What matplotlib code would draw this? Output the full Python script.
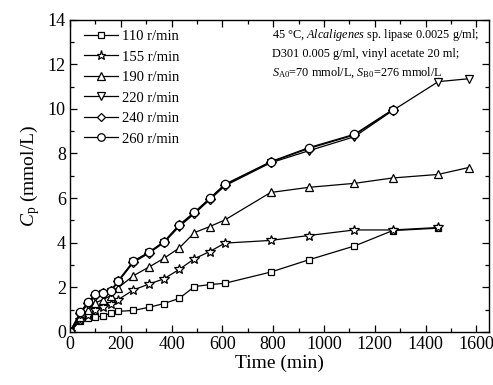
import matplotlib
matplotlib.use("Agg")
import matplotlib.pyplot as plt
from matplotlib.ticker import MultipleLocator

plt.rcParams['font.family'] = ['Liberation Serif', 'DejaVu Serif']
plt.rcParams['mathtext.fontset'] = 'custom'
plt.rcParams['mathtext.rm'] = 'Liberation Serif'
plt.rcParams['mathtext.it'] = 'Liberation Serif:italic'

t_110 = [0, 40, 70, 100, 130, 160, 190, 250, 310, 370, 430, 490, 550, 610, 790, 940, 1120, 1270, 1450]
c_110 = [0, 0.50, 0.60, 0.68, 0.70, 0.85, 0.92, 0.96, 1.10, 1.27, 1.50, 2.03, 2.12, 2.18, 2.68, 3.23, 3.85, 4.54, 4.65]

t_155 = [0, 40, 70, 100, 130, 160, 190, 250, 310, 370, 430, 490, 550, 610, 790, 940, 1120, 1270, 1450]
c_155 = [0, 0.55, 0.75, 0.98, 1.12, 1.26, 1.45, 1.88, 2.14, 2.38, 2.80, 3.28, 3.60, 3.98, 4.10, 4.32, 4.57, 4.57, 4.68]

t_190 = [0, 40, 70, 100, 130, 160, 190, 250, 310, 370, 430, 490, 550, 610, 790, 940, 1120, 1270, 1450, 1570]
c_190 = [0, 0.65, 1.00, 1.30, 1.45, 1.62, 1.98, 2.52, 2.90, 3.30, 3.76, 4.45, 4.72, 5.02, 6.25, 6.48, 6.66, 6.90, 7.06, 7.37]

t_220 = [0, 40, 70, 100, 130, 160, 190, 250, 310, 370, 430, 490, 550, 610, 790, 940, 1120, 1270, 1450, 1570]
c_220 = [0, 0.80, 1.25, 1.60, 1.70, 1.80, 2.25, 3.12, 3.52, 4.00, 4.72, 5.30, 5.92, 6.55, 7.58, 8.12, 8.75, 9.92, 11.22, 11.35]

t_240 = [0, 40, 70, 100, 130, 160, 190, 250, 310, 370, 430, 490, 550, 610, 790, 940, 1120, 1270]
c_240 = [0, 0.85, 1.30, 1.65, 1.73, 1.82, 2.28, 3.15, 3.55, 4.03, 4.77, 5.34, 5.96, 6.59, 7.61, 8.22, 8.83, 9.94]

t_260 = [0, 40, 70, 100, 130, 160, 190, 250, 310, 370, 430, 490, 550, 610, 790, 940, 1120, 1270]
c_260 = [0, 0.88, 1.33, 1.70, 1.76, 1.85, 2.30, 3.18, 3.57, 4.05, 4.80, 5.37, 5.99, 6.62, 7.63, 8.26, 8.86, 9.96]

labels = ['110 r/min', '155 r/min', '190 r/min', '220 r/min', '240 r/min', '260 r/min']

series = [(t_110, c_110, 's', 5.0), (t_155, c_155, '*', 7.5),
          (t_190, c_190, '^', 6.0), (t_220, c_220, 'v', 6.0),
          (t_240, c_240, 'D', 5.0), (t_260, c_260, 'o', 6.0)]

fig = plt.figure(figsize=(4.93, 3.85), dpi=100)
ax = fig.add_axes([0.142, 0.138, 0.850, 0.811])

for (t, c, m, ms), lab in zip(series, labels):
    ax.plot(t, c, color='black', lw=0.9, marker=m, ms=ms, mfc='white',
            mec='black', mew=0.9, label=lab)

ax.set_xlim(0, 1650)
ax.set_ylim(0, 14)
ax.xaxis.set_major_locator(MultipleLocator(200))
ax.xaxis.set_minor_locator(MultipleLocator(100))
ax.yaxis.set_major_locator(MultipleLocator(2))
ax.yaxis.set_minor_locator(MultipleLocator(1))
ax.tick_params(which='both', direction='in', top=True, right=True, labelsize=13)
ax.tick_params(which='major', length=5, width=0.9, pad=3)
ax.tick_params(which='minor', length=3, width=0.9)
for s in ax.spines.values():
    s.set_linewidth(1.0)

ax.set_xlabel('Time (min)', fontsize=14, labelpad=1)
ax.set_ylabel(r'$\mathit{C}_{\mathrm{p}}$ (mmol/L)', fontsize=14, labelpad=4)

ax.legend(loc='upper left', frameon=False, fontsize=10.5, handlelength=2.3,
          handletextpad=0.3, labelspacing=0.5, borderaxespad=0.3,
          bbox_to_anchor=(0.01, 1.0), markerscale=0.9)

ax.text(0.482, 0.975,
        '45 °C, $\\mathit{Alcaligenes}$ sp. lipase 0.0025 g/ml;\n'
        'D301 0.005 g/ml, vinyl acetate 20 ml;\n'
        '$\\mathit{S}_{\\mathrm{A0}}$=70 mmol/L, $\\mathit{S}_{\\mathrm{B0}}$=276 mmol/L',
        transform=ax.transAxes, ha='left', va='top', fontsize=8.8,
        linespacing=1.5)

fig.savefig('out.png', dpi=100)
